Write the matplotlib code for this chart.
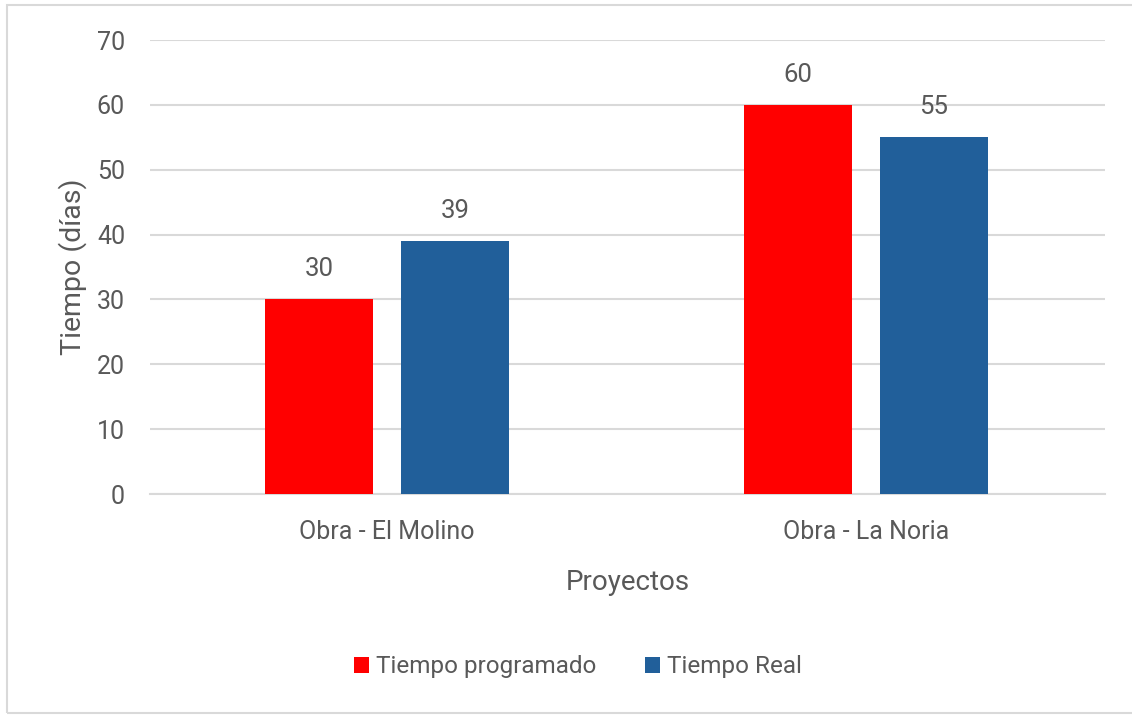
import matplotlib
matplotlib.use("Agg")
import matplotlib.pyplot as plt
from matplotlib.patches import Rectangle
import numpy as np

categories = ["Obra - El Molino", "Obra - La Noria"]
series_names = ["Tiempo programado", "Tiempo Real"]
programado = [30, 60]
real = [39, 55]
y_ticks = [0, 10, 20, 30, 40, 50, 60, 70]

colors = ["#FF0000", "#215F9A"]
text_color = "#595959"
grid_color = "#D9D9D9"

plt.rcParams["font.family"] = ["Roboto", "DejaVu Sans"]

fig = plt.figure(figsize=(11.32, 7.15), dpi=100)
fig.patch.set_facecolor("white")

# outer chart frame
fig.add_artist(Rectangle((7 / 1132, 2 / 715), 1.0, 708 / 715, transform=fig.transFigure,
                         fill=False, edgecolor="#D9D9D9", linewidth=1.5))

ax = fig.add_axes([150 / 1132, (715 - 494) / 715, (1105 - 150) / 1132, (494 - 40) / 715])

x = np.arange(len(categories))
width = 0.226
offset = 0.142
for vals, name, col, sign in zip([programado, real], series_names, colors, [-1, 1]):
    bars = ax.bar(x + sign * offset, vals, width, color=col, label=name, zorder=3)
    for b, v in zip(bars, vals):
        ax.annotate(f"{v}", (b.get_x() + b.get_width() / 2, v), xytext=(0, 13),
                    textcoords="offset points", ha="center", va="bottom",
                    fontsize=18.5, color=text_color)

ax.set_xlim(-0.495, 1.5)
ax.set_ylim(0, 70)
ax.set_yticks(y_ticks)
ax.yaxis.grid(True, color=grid_color, linewidth=1.5, zorder=0)
ax.set_axisbelow(True)
for s in ["top", "right", "left"]:
    ax.spines[s].set_visible(False)
ax.spines["bottom"].set_color(grid_color)
ax.spines["bottom"].set_linewidth(1.5)
ax.tick_params(axis="both", length=0)
ax.tick_params(axis="y", labelsize=18, labelcolor=text_color, pad=18)
ax.set_xticks(x)
ax.set_xticklabels(categories, fontsize=18, color=text_color)
ax.tick_params(axis="x", pad=18.5)

ax.set_ylabel("Tiempo (días)", fontsize=20.5, color=text_color, labelpad=7)
ax.set_xlabel("Proyectos", fontsize=20, color=text_color, labelpad=18)

handles, labels = ax.get_legend_handles_labels()
fig.legend(handles, labels, loc="center", bbox_to_anchor=(578 / 1132, (715 - 667) / 715),
           ncol=2, frameon=False, fontsize=17.5, labelcolor=text_color,
           handlelength=0.6, handleheight=0.6, handletextpad=0.3, columnspacing=2.0)

fig.savefig("out.png", dpi=100, facecolor="white")
